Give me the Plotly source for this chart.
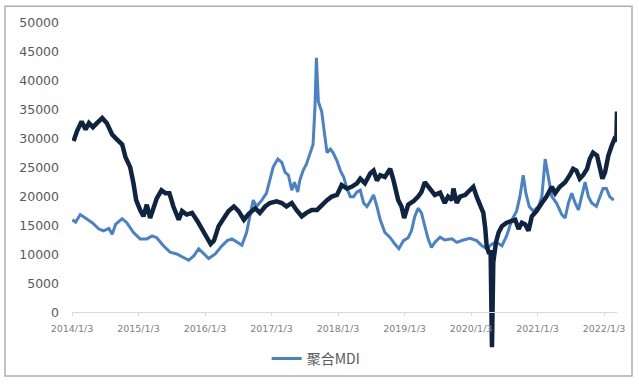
import plotly.graph_objects as go

# ---- data (decimal years) ----
mdi_t = [2014.01, 2014.06, 2014.13, 2014.21, 2014.31, 2014.41, 2014.48, 2014.56, 2014.61, 2014.66,
         2014.76, 2014.83, 2014.93, 2015.03, 2015.13, 2015.21, 2015.28, 2015.38, 2015.48, 2015.58,
         2015.69, 2015.76, 2015.84, 2015.91, 2015.99, 2016.06, 2016.16, 2016.26, 2016.34, 2016.41,
         2016.49, 2016.56, 2016.63, 2016.68, 2016.73, 2016.78, 2016.86, 2016.93, 2016.98, 2017.03,
         2017.10, 2017.16, 2017.21, 2017.26, 2017.31, 2017.35, 2017.40, 2017.43, 2017.48, 2017.53,
         2017.58, 2017.63, 2017.66, 2017.68, 2017.71, 2017.76, 2017.81, 2017.84, 2017.89, 2017.93,
         2017.99, 2018.04, 2018.09, 2018.14, 2018.19, 2018.24, 2018.29, 2018.34, 2018.39, 2018.44,
         2018.49, 2018.54, 2018.59, 2018.64, 2018.71, 2018.79, 2018.86, 2018.92, 2018.99, 2019.06,
         2019.11, 2019.16, 2019.21, 2019.26, 2019.31, 2019.36, 2019.41, 2019.46, 2019.54, 2019.61,
         2019.72, 2019.79, 2019.89, 2019.99, 2020.09, 2020.17, 2020.24, 2020.32, 2020.39, 2020.47,
         2020.54, 2020.62, 2020.69, 2020.74, 2020.79, 2020.83, 2020.88, 2020.94, 2021.02, 2021.07,
         2021.12, 2021.17, 2021.22, 2021.29, 2021.37, 2021.42, 2021.47, 2021.52, 2021.57, 2021.62,
         2021.67, 2021.72, 2021.77, 2021.82, 2021.89, 2021.95, 2021.99, 2022.04, 2022.09, 2022.15]
mdi_v = [16000, 15600, 16900, 16300, 15500, 14400, 14100, 14500, 13500, 15200,
         16200, 15500, 13800, 12700, 12700, 13200, 12900, 11500, 10400, 10100,
         9500, 9000, 9800, 11000, 10100, 9300, 10100, 11500, 12400, 12700,
         12100, 11600, 13800, 16600, 19400, 18300, 19400, 20600, 22800, 25100,
         26500, 25900, 24200, 23700, 21100, 22500, 20800, 22800, 24500, 25600,
         27300, 29000, 35800, 44000, 36400, 34700, 30200, 27600, 28200, 27600,
         26200, 24500, 23400, 21400, 20000, 20000, 20800, 21100, 18900, 18300,
         19200, 20300, 18300, 16000, 13800, 12900, 11800, 11000, 12400, 12900,
         14100, 16600, 18000, 17200, 14900, 12700, 11200, 12100, 13000, 12500,
         12700, 12100, 12500, 12800, 12400, 11500, 11000, 11800, 12100, 11500,
         13200, 16000, 17500, 20000, 23700, 20600, 18300, 17500, 18300, 20000,
         26500, 23400, 20000, 18900, 16900, 16300, 18900, 20600, 18900, 17700,
         20000, 22500, 20000, 18900, 18300, 20000, 21400, 21400, 20000, 19400]

other_t = [2014.03, 2014.08, 2014.15, 2014.21, 2014.26, 2014.32, 2014.38, 2014.46, 2014.53, 2014.61,
           2014.68, 2014.76, 2014.81, 2014.88, 2014.93, 2014.97, 2015.03, 2015.08, 2015.13, 2015.18,
           2015.23, 2015.28, 2015.35, 2015.41, 2015.47, 2015.53, 2015.61, 2015.66, 2015.73, 2015.81,
           2015.89, 2015.96, 2016.04, 2016.09, 2016.14, 2016.21, 2016.29, 2016.36, 2016.44, 2016.51,
           2016.59, 2016.66, 2016.76, 2016.83, 2016.91, 2016.98, 2017.08, 2017.16, 2017.23, 2017.31,
           2017.38, 2017.46, 2017.53, 2017.61, 2017.69, 2017.76, 2017.84, 2017.91, 2017.99, 2018.06,
           2018.14, 2018.21, 2018.29, 2018.34, 2018.41, 2018.49, 2018.54, 2018.59, 2018.64, 2018.71,
           2018.79, 2018.84, 2018.91, 2018.96, 2019.00, 2019.06, 2019.14, 2019.21, 2019.26, 2019.31,
           2019.39, 2019.46, 2019.54, 2019.61, 2019.66, 2019.72, 2019.74, 2019.79, 2019.84, 2019.92,
           2019.96, 2020.04, 2020.09, 2020.14, 2020.19, 2020.22, 2020.24, 2020.27, 2020.30, 2020.32,
           2020.34, 2020.38, 2020.42, 2020.47, 2020.54, 2020.62, 2020.67, 2020.72, 2020.77, 2020.82,
           2020.87, 2020.92, 2020.99, 2021.07, 2021.14, 2021.22, 2021.27, 2021.34, 2021.42, 2021.49,
           2021.54, 2021.59, 2021.64, 2021.69, 2021.75, 2021.79, 2021.84, 2021.90, 2021.95, 2021.98,
           2022.02, 2022.07, 2022.12, 2022.16, 2022.19, 2022.20]
other_v = [29600, 31300, 33000, 31600, 32700, 32000, 32700, 33600, 32700, 30700,
           29900, 29000, 26800, 25100, 22300, 19400, 17700, 16600, 18600, 16300,
           18000, 19700, 21100, 20600, 20600, 18300, 16000, 17500, 16900, 17200,
           15800, 14400, 12900, 11800, 12400, 14900, 16300, 17500, 18300, 17500,
           16000, 17000, 18000, 17200, 18300, 18900, 19200, 18900, 18300, 18900,
           17700, 16600, 17200, 17700, 17700, 18600, 19400, 20000, 20300, 22000,
           21400, 21700, 22300, 23100, 22300, 24000, 24500, 22800, 23700, 23400,
           24800, 22800, 19400, 18300, 16300, 18600, 19200, 20000, 20800, 22500,
           21400, 20300, 20700, 18900, 20000, 19400, 21400, 18900, 20000, 20300,
           20800, 21700, 20000, 18600, 17200, 14400, 11500, 10400, 10400, -6000,
           8700, 12100, 13800, 14900, 15500, 15800, 16000, 14400, 15500, 15200,
           14100, 16600, 17500, 18900, 20000, 21700, 20600, 21700, 22500, 23700,
           24800, 24500, 23100, 23700, 24800, 26500, 27600, 27100, 24800, 23100,
           24200, 27100, 28800, 29900, 29600, 34700]

year_ticks = [2014.0055, 2015.0055, 2016.0055, 2017.0055, 2018.0055,
              2019.0055, 2020.0055, 2021.0055, 2022.0055]
year_labels = ["2014/1/3", "2015/1/3", "2016/1/3", "2017/1/3", "2018/1/3",
               "2019/1/3", "2020/1/3", "2021/1/3", "2022/1/3"]
y_ticks = [0, 5000, 10000, 15000, 20000, 25000, 30000, 35000, 40000, 45000, 50000]
y_labels = [str(v) for v in y_ticks]

Y_MIN, Y_MAX = -6500, 50000
X_MIN, X_MAX = 2014.0055, 2022.2

fig = go.Figure()
fig.add_trace(go.Scatter(x=mdi_t, y=mdi_v, name="聚合MDI", mode="lines",
                         line=dict(color="#4A82C6", width=3)))
fig.add_trace(go.Scatter(x=other_t, y=other_v, name="series2", mode="lines",
                         showlegend=False, line=dict(color="#0E2440", width=4.5)))

fig.update_layout(
    width=639, height=387,
    margin=dict(l=72, r=22, t=23, b=31),
    paper_bgcolor="white", plot_bgcolor="white",
    font=dict(family="DejaVu Sans, Noto Sans CJK SC", color="#595959"),
    showlegend=True,
    legend=dict(orientation="h", x=0.448, xanchor="center", y=-0.027, yanchor="middle",
                font=dict(size=14, family="Noto Sans CJK SC", color="#595959"),
                bgcolor="rgba(0,0,0,0)"),
    xaxis=dict(range=[X_MIN, X_MAX], tickvals=year_ticks, ticktext=year_labels,
               anchor="free", position=(0 - Y_MIN) / (Y_MAX - Y_MIN),
               showgrid=False, zeroline=False, showline=True, linecolor="#D9D9D9", linewidth=1,
               ticks="outside", ticklen=3, tickcolor="#D9D9D9", ticklabelstandoff=4,
               tickfont=dict(size=9.5, color="#808080", family="DejaVu Sans")),
    yaxis=dict(range=[Y_MIN, Y_MAX], tickvals=y_ticks, ticktext=y_labels,
               showgrid=False, zeroline=False,
               showline=False, ticks="", ticklabelstandoff=12,
               tickfont=dict(size=12.5, color="#595959", family="DejaVu Sans")),
    shapes=[dict(type="rect", xref="paper", yref="paper",
                 x0=(5 - 72) / 545, x1=(632 - 72) / 545,
                 y0=(356.4 - 383) / 333.4, y1=(356.4 - 6) / 333.4,
                 line=dict(color="#AFAFAF", width=1.5), fillcolor="rgba(0,0,0,0)",
                 layer="above")],
)

fig.write_html("out.html", config={"displayModeBar": False},
               post_script="document.body.style.margin='0';document.body.style.overflow='hidden';")
